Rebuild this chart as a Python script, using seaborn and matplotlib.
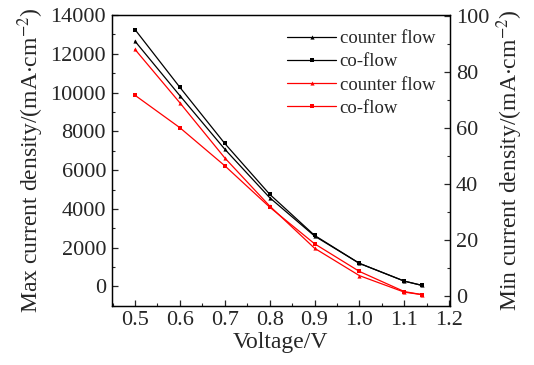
import matplotlib
matplotlib.use("Agg")
import matplotlib.pyplot as plt
from matplotlib.ticker import AutoMinorLocator
import seaborn as sns

sns.set_theme(style="white")
plt.rcParams["font.family"] = ["Liberation Serif", "DejaVu Serif"]
plt.rcParams["mathtext.fontset"] = "stix"

voltage = [0.5, 0.6, 0.7, 0.8, 0.9, 1.0, 1.1, 1.14]
max_counter = [12650, 9840, 7080, 4580, 2600, 1190, 275, 52]
max_co = [13250, 10270, 7375, 4755, 2635, 1190, 275, 52]
min_counter = [88.1, 69.0, 49.3, 32.1, 17.0, 7.2, 1.3, 0.4]
min_co = [71.7, 60.1, 46.5, 31.7, 18.6, 8.7, 1.5, 0.4]

fig = plt.figure(figsize=(5.34, 3.65), dpi=100)
ax = fig.add_axes([0.209, 0.162, 0.634, 0.797])
ax2 = ax.twinx()

kw = dict(linewidth=0.9, markersize=3, markeredgewidth=0)
sns.lineplot(x=voltage, y=max_counter, ax=ax, color="black", marker="^", label="counter flow", **kw)
sns.lineplot(x=voltage, y=max_co, ax=ax, color="black", marker="s", label="co-flow", **kw)
sns.lineplot(x=voltage, y=min_counter, ax=ax2, color="red", marker="^", label="counter flow", **kw)
sns.lineplot(x=voltage, y=min_co, ax=ax2, color="red", marker="s", label="co-flow", **kw)

h1, l1 = ax.get_legend_handles_labels()
h2, l2 = ax2.get_legend_handles_labels()
ax.get_legend().remove()
ax2.get_legend().remove()
ax2.legend(h1 + h2, l1 + l2, loc="upper right", bbox_to_anchor=(1.0, 1.0),
           frameon=False, fontsize=13.5, handlelength=2.6, handletextpad=0.2,
           labelspacing=0.33, borderaxespad=0.4)

ax.set_xlim(0.448, 1.202)
ax.set_ylim(-1000, 14000)
ax2.set_ylim(-3.6, 100.4)
ax.set_xticks([0.5, 0.6, 0.7, 0.8, 0.9, 1.0, 1.1, 1.2])
ax.set_xticklabels(["0.5", "0.6", "0.7", "0.8", "0.9", "1.0", "1.1", "1.2"])
ax.set_yticks(range(0, 14001, 2000))
ax2.set_yticks(range(0, 101, 20))

for a in (ax, ax2):
    a.xaxis.set_minor_locator(AutoMinorLocator(2))
    a.yaxis.set_minor_locator(AutoMinorLocator(2))
    a.tick_params(which="both", direction="in", labelsize=16, pad=4)
    a.tick_params(which="major", length=4, width=0.9)
    a.tick_params(which="minor", length=2, width=0.8)
    for s in a.spines.values():
        s.set_color("black")
        s.set_linewidth(0.9)
ax.tick_params(axis="x", which="both", bottom=True, top=False)
ax.tick_params(axis="y", which="both", left=True, right=False)
ax2.tick_params(axis="y", which="both", right=True, left=False)

ax.set_xlabel("Voltage/V", fontsize=17, labelpad=1)
ax.set_ylabel(r"Max current density/(mA$\cdot$cm$^{-2}$)", fontsize=17, labelpad=3)
ax2.set_ylabel(r"Min current density/(mA$\cdot$cm$^{-2}$)", fontsize=17, labelpad=4)

fig.savefig("out.png", dpi=100)
